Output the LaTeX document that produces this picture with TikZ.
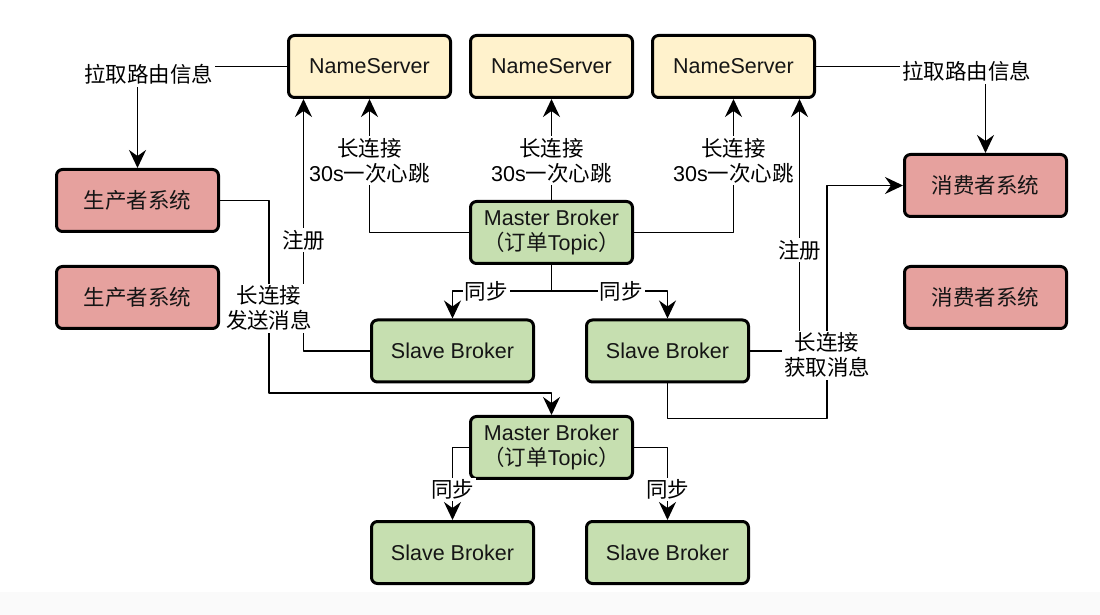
\documentclass[tikz,border=0pt]{standalone}
\usepackage{fontspec}
\setmainfont{Liberation Sans}
\newfontfamily\cjk{Noto Sans CJK SC}
\usetikzlibrary{arrows.meta,positioning}
\definecolor{NameFill}{HTML}{FFF2CC}
\definecolor{ClientFill}{HTML}{E6A19E}
\definecolor{BrokerFill}{HTML}{C6DFB0}
\definecolor{Ink}{HTML}{151515}
\newcommand{\zh}[1]{{\cjk #1}}

\begin{document}
\begin{tikzpicture}[x=0.5pt,y=-0.5pt,
      font=\fontsize{10.75}{12.5}\selectfont,
      line cap=round,line join=round,
      box/.style={draw=black,line width=1.5pt,rounded corners=3pt,
        minimum width=81pt,minimum height=31pt,inner sep=0pt,
        align=center,text=Ink},
      nsbox/.style={box,fill=NameFill},
      clientbox/.style={box,fill=ClientFill},
      brokerbox/.style={box,fill=BrokerFill},
      wire/.style={line width=0.85pt},
      link/.style={wire,-{Stealth[length=9pt,width=8.5pt,inset=3pt]}},
      tag/.style={fill=white,inner sep=1pt,align=center}]
    \useasboundingbox (0,0) rectangle (1100,615);
    \fill[white] (0,0) rectangle (1100,615);
    \fill[black!2] (0,592) rectangle (1100,615);

    % name servers
    \node[nsbox] (ns1) at (369.5,66.5) {NameServer};
    \node[nsbox] (ns2) at (551.5,66.5) {NameServer};
    \node[nsbox] (ns3) at (733.5,66.5) {NameServer};

    % producers and consumers
    \node[clientbox] (prod1) at (137.5,200.5) {\zh{生产者系统}};
    \node[clientbox] (prod2) at (137.5,297.5) {\zh{生产者系统}};
    \node[clientbox] (cons1) at (985.5,185.5) {\zh{消费者系统}};
    \node[clientbox] (cons2) at (985.5,297.5) {\zh{消费者系统}};

    % brokers
    \node[brokerbox] (m1) at (551.5,232.5)
      {Master Broker\\\zh{（订单}Topic\zh{）}};
    \node[brokerbox] (s1) at (452.5,351) {Slave Broker};
    \node[brokerbox] (s2) at (667.5,351) {Slave Broker};
    \node[brokerbox] (m2) at (551.5,447.5)
      {Master Broker\\\zh{（订单}Topic\zh{）}};
    \node[brokerbox] (s3) at (452.5,552.5) {Slave Broker};
    \node[brokerbox] (s4) at (667.5,552.5) {Slave Broker};

    % routing info
    \draw[link] (ns1.west) -| node[tag,xshift=5.5pt,yshift=-4pt]
      {\zh{拉取路由信息}} (prod1.north);
    \draw[link] (ns3.east) -| node[tag,xshift=-9.5pt,yshift=-2.5pt]
      {\zh{拉取路由信息}} (cons1.north);

    % heartbeats
    \draw[link] (m1.west) -| node[tag,pos=0.77]
      {\zh{长连接}\\30s\zh{一次心跳}} (ns1.south);
    \draw[link] (m1.north) -- node[tag,pos=0.39]
      {\zh{长连接}\\30s\zh{一次心跳}} (ns2.south);
    \draw[link] (m1.east) -| node[tag,pos=0.77]
      {\zh{长连接}\\30s\zh{一次心跳}} (ns3.south);

    % registration
    \draw[link] (s1.west) -| node[tag,pos=0.72]
      {\zh{注册}} ([xshift=-33pt]ns1.south);
    \draw[link] (s2.east) -| node[tag,pos=0.70]
      {\zh{注册}} ([xshift=33pt]ns3.south);

    % sending and fetching messages
    \draw[link] (prod1.east) -- ++(49,0) |- node[tag,pos=0.28]
      {\zh{长连接}\\\zh{发送消息}} ([yshift=11pt]m2.north) -- (m2.north);
    \draw[link] (s2.south) -- ++(0,35) -| node[tag,pos=0.636]
      {\zh{长连接}\\\zh{获取消息}} ([xshift=-38pt]cons1.west) -- (cons1.west);

    % sync to slaves
    \draw[wire] (m1.south) -- ++(0,26) coordinate (fork1);
    \draw[link] (fork1) -| node[tag,pos=0.33] {\zh{同步}} (s1.north);
    \draw[link] (fork1) -| node[tag,pos=0.30] {\zh{同步}} (s2.north);
    \draw[link] (m2.west) -| node[tag,pos=0.79] {\zh{同步}} (s3.north);
    \draw[link] (m2.east) -| node[tag,pos=0.79] {\zh{同步}} (s4.north);
  \end{tikzpicture}
\end{document}
